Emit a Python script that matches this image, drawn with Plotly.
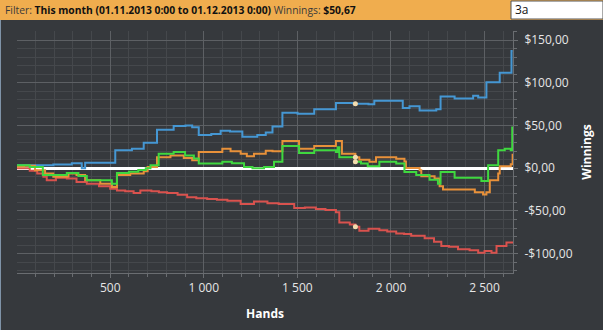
import plotly.graph_objects as go

# ---- data (hands, cumulative winnings $) ----
blue_hands = [0, 196, 295, 348, 366, 527, 616, 679, 750, 839, 902, 938, 973, 1040, 1090, 1140, 1206, 1286, 1331, 1367, 1420, 1501, 1590, 1706, 1800, 1880, 1911, 2063, 2099, 2153, 2242, 2265, 2340, 2439, 2466, 2510, 2581, 2644, 2650]
blue_vals = [3.5, 4.5, 6, 0, 6.5, 21, 23, 30, 45, 49.5, 50, 48, 39, 40, 44, 43, 37, 39, 42, 49, 65, 64, 69, 76.5, 75.6, 75, 79, 70.5, 72.5, 67.7, 69, 84, 81.6, 85, 83, 100.8, 112, 137.5, 137.5]

red_hands = [0, 70, 110, 143, 161, 210, 268, 320, 375, 440, 500, 536, 580, 625, 661, 720, 760, 804, 860, 911, 960, 1018, 1070, 1126, 1197, 1268, 1340, 1400, 1483, 1540, 1599, 1650, 1706, 1724, 1780, 1810, 1831, 1880, 1938, 1980, 2028, 2070, 2108, 2180, 2230, 2269, 2310, 2358, 2420, 2466, 2500, 2537, 2564, 2617, 2650]
red_vals = [0, -3, -6, -10, -14, -11, -12, -16, -18, -21, -24, -26, -27, -29, -26, -27, -28, -29, -31, -34, -35, -36, -37, -38, -42, -39, -41, -42, -46.5, -46, -47.7, -49, -51.6, -63.5, -66, -68.6, -73.3, -71, -72.5, -74, -76.5, -77, -79, -82, -86, -91, -92, -95, -96, -99, -97, -99, -91, -87, -88]

orange_hands = [0, 40, 98, 152, 196, 277, 320, 366, 447, 509, 536, 607, 679, 700, 750, 822, 893, 938, 973, 1099, 1143, 1197, 1230, 1268, 1331, 1367, 1420, 1509, 1590, 1706, 1738, 1810, 1831, 1885, 1920, 2028, 2072, 2080, 2153, 2162, 2233, 2260, 2278, 2448, 2492, 2510, 2528, 2573, 2581, 2640, 2650]
orange_vals = [2, 3, -2.4, -6, -10, -6, -8, -14, -18, -22, -8, -6, -3.5, 1.5, 13, 15, 12, 9.5, 19, 23, 20, 17, 14, 17, 20.5, 20, 32, 23, 26, 32, 17, 13, 10, 7.5, 13, 11, 8, 0.4, -2.4, -9.5, -12, -21, -25, -28, -30.7, -28, -14, -6, 2.4, 4.7, 17]

green_hands = [0, 70, 140, 180, 268, 330, 375, 460, 509, 536, 600, 650, 690, 715, 759, 839, 900, 947, 973, 1099, 1150, 1215, 1260, 1322, 1375, 1420, 1509, 1590, 1706, 1715, 1724, 1810, 1840, 1876, 1938, 2028, 2072, 2135, 2206, 2251, 2265, 2340, 2483, 2519, 2573, 2608, 2640, 2648]
green_vals = [3.5, 1.5, -8, -8, -5.5, -9, -14, -14, -18, -5.5, -4, -2, 0, 3.5, 17, 19, 15, 11.5, 5.5, 7.5, 6, 1.5, 0, 1.5, 7.5, 26, 18, 21, 19, 24.5, 13, 7.5, 5.5, 2.4, 7.5, 5.5, -4.4, -8, -13.4, -18, -4.4, -11, -15, 3.5, 21, 23, 21, 49]

marker_hand = 1810

x_tickvals = [500, 1000, 1500, 2000, 2500]
x_ticktext = ["500", "1 000", "1 500", "2 000", "2 500"]
y_tickvals = [-100, -50, 0, 50, 100, 150]
y_ticktext = ["-$100,00", "-$50,00", "$0,00", "$50,00", "$100,00", "$150,00"]

header_text = ("<span style='color:#3a3a3a'>Filter:</span> <b>This month (01.11.2013 0:00 to 01.12.2013 0:00)</b>"
               " <span style='color:#3a3a3a'>Winnings:</span> <b>$50,67</b>")


def step_value(hands, vals, h):
    v = vals[0]
    for hx, vy in zip(hands, vals):
        if hx <= h:
            v = vy
    return v


BG = "#36393d"
fig = go.Figure()
series = [
    (blue_hands, blue_vals, "#4597d3"),
    (red_hands, red_vals, "#d9524e"),
    (orange_hands, orange_vals, "#e8913a"),
    (green_hands, green_vals, "#3fd83f"),
]
for hx, vy, col in series:
    fig.add_trace(go.Scatter(x=hx, y=vy, mode="lines", line=dict(color=col, width=2, shape="hv"),
                             hoverinfo="skip", showlegend=False))

fig.add_trace(go.Scatter(
    x=[marker_hand] * 4,
    y=[step_value(hx, vy, marker_hand) for hx, vy, _ in series],
    mode="markers", marker=dict(color="#f3dcae", size=5, line=dict(width=0)),
    showlegend=False, hoverinfo="skip"))

# pixel helpers for plot area (l=17, t=31, w=496, h=242)
L, T, W, H = 17, 31, 496, 242
def px(x):
    return (x - L) / W
def py(y):
    return (T + H - y) / H

fig.update_layout(
    width=603, height=330,
    margin=dict(l=L, r=603 - L - W, t=T, b=330 - T - H),
    paper_bgcolor=BG, plot_bgcolor=BG,
    font=dict(family="Open Sans", color="#e6e6e6", size=12),
    xaxis=dict(
        range=[2, 2652], tickmode="array", tickvals=x_tickvals, ticktext=x_ticktext,
        showgrid=True, gridcolor="#5d6064", gridwidth=1,
        ticks="outside", ticklen=4, tickcolor="#6a6d71",
        showline=True, linecolor="#6a6d71", linewidth=1,
        zeroline=False,
        tickfont=dict(size=12, color="#e6e6e6"),
        minor=dict(tickmode="linear", tick0=0, dtick=100, showgrid=True, gridcolor="#45484c",
                   ticks="outside", ticklen=3, tickcolor="#6a6d71"),
        title=dict(text="<b>Hands</b>", font=dict(size=12, color="#ffffff"), standoff=14),
    ),
    yaxis=dict(
        side="right", range=[-122.7, 160.8], tickmode="array", tickvals=y_tickvals, ticktext=y_ticktext,
        showgrid=True, gridcolor="#5d6064", gridwidth=1,
        ticks="outside", ticklen=4, tickcolor="#6a6d71",
        showline=True, linecolor="#6a6d71", linewidth=1,
        zeroline=True, zerolinecolor="#ffffff", zerolinewidth=3,
        tickfont=dict(size=12, color="#e6e6e6"),
        ticklabelstandoff=4,
        minor=dict(tickmode="linear", tick0=0, dtick=10, showgrid=True, gridcolor="#45484c",
                   ticks="outside", ticklen=3, tickcolor="#6a6d71"),
        title=dict(text="<b>Winnings</b>", font=dict(size=12, color="#ffffff"), standoff=10),
    ),
    shapes=[
        dict(type="rect", xref="paper", yref="paper", x0=px(0), x1=px(603), y0=py(20), y1=py(0),
             fillcolor="#f0ad4e", line=dict(width=0), layer="above"),
        dict(type="rect", xref="paper", yref="paper", x0=px(511), x1=px(603), y0=py(19), y1=py(1),
             fillcolor="#ffffff", line=dict(width=1, color="#555555"), layer="above"),
        dict(type="line", xref="paper", yref="paper", x0=px(0.5), x1=px(0.5), y0=py(330), y1=py(20),
             line=dict(width=1, color="#7f93a8"), layer="above"),
    ],
    annotations=[
        dict(text=header_text, xref="paper", yref="paper", x=px(3), y=py(10), xanchor="left",
             yanchor="middle", showarrow=False, font=dict(size=10.3, color="#111111", family="Open Sans")),
        dict(text="3a", xref="paper", yref="paper", x=px(513), y=py(10), xanchor="left",
             yanchor="middle", showarrow=False, font=dict(size=12, color="#111111", family="Open Sans")),
    ],
)

fig.write_html("out.html")
